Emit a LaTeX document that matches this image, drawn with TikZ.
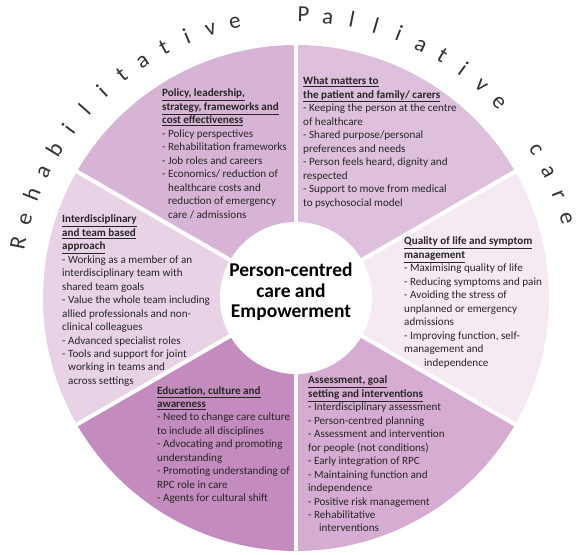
\documentclass[tikz,border=0pt]{standalone}
\usepackage{fontspec}
\setmainfont{Carlito}
\definecolor{cpol}{HTML}{D7B4D5}
\definecolor{cwhat}{HTML}{DEC0DC}
\definecolor{cqol}{HTML}{F5EAF3}
\definecolor{cass}{HTML}{D6ACD2}
\definecolor{cedu}{HTML}{C48BBE}
\definecolor{cint}{HTML}{E8D2E6}
\tikzset{
  blk/.style={anchor=north west, align=left, inner sep=0pt, font=\fontsize{11.1}{13.45}\selectfont, text=black!85},
  arcl/.style={font=\fontsize{23}{23}\selectfont, anchor=base, inner sep=0pt, text=black!80},
  sepline/.style={white, line width=4pt},
}
\newcommand{\hd}[1]{\textbf{\underline{#1}}}
\begin{document}
\begin{tikzpicture}[x=1pt,y=1pt]
\useasboundingbox (0,0) rectangle (583,554);
\coordinate (O) at (296,256);
\def\R{253}
\fill[cqol] (O) -- ++(-30:\R) arc[start angle=-30,end angle=30,radius=\R] -- cycle;
\fill[cwhat] (O) -- ++(30:\R) arc[start angle=30,end angle=90,radius=\R] -- cycle;
\fill[cpol] (O) -- ++(90:\R) arc[start angle=90,end angle=150,radius=\R] -- cycle;
\fill[cint] (O) -- ++(150:\R) arc[start angle=150,end angle=210,radius=\R] -- cycle;
\fill[cedu] (O) -- ++(210:\R) arc[start angle=210,end angle=270,radius=\R] -- cycle;
\fill[cass] (O) -- ++(270:\R) arc[start angle=270,end angle=330,radius=\R] -- cycle;
\foreach \a in {30,90,150,210,270,330} \draw[sepline] (O) -- ++(\a:\R+3);
\node[circle, fill=white, minimum size=152pt, inner sep=0pt] (hub) at (O) {};
\node[align=center, inner sep=0pt, font=\fontsize{19.5}{20.5}\selectfont\bfseries] (title) at (291,262) {Person-centred\\care and\\Empowerment};

\node[blk] (pol) at (162,465) {\hd{Policy, leadership,}\\
\hd{strategy, frameworks and}\\
\hd{cost effectiveness}\\
- Policy perspectives\\
- Rehabilitation frameworks\\
- Job roles and careers\\
- Economics/ reduction of\\
\hspace*{6pt}healthcare costs and\\
\hspace*{6pt}reduction of emergency\\
\hspace*{6pt}care / admissions};

\node[blk] (what) at (303,477) {\hd{What matters to}\\
\hd{the patient and family/ carers}\\
- Keeping the person at the centre\\
of healthcare\\
- Shared purpose/personal\\
preferences and needs\\
- Person feels heard, dignity and\\
respected\\
- Support to move from medical\\
to psychosocial model};

\node[blk] (int) at (62,339) {\hd{Interdisciplinary}\\
\hd{and team based}\\
\hd{approach}\\
- Working as a member of an\\
interdisciplinary team with\\
shared team goals\\
- Value the whole team including\\
allied professionals and non-\\
clinical colleagues\\
- Advanced specialist roles\\
- Tools and support for joint\\
\hspace*{6pt}working in teams and\\
\hspace*{6pt}across settings};

\node[blk] (qol) at (404,317) {\hd{Quality of life and symptom}\\
\hd{management}\\
- Maximising quality of life\\
- Reducing symptoms and pain\\
- Avoiding the stress of\\
unplanned or emergency\\
admissions\\
- Improving function, self-\\
management and\\
\hspace*{20pt}independence};

\node[blk] (edu) at (157,168) {\hd{Education, culture and}\\
\hd{awareness}\\
- Need to change care culture\\
to include all disciplines\\
- Advocating and promoting\\
understanding\\
- Promoting understanding of\\
RPC role in care\\
- Agents for cultural shift};

\node[blk] (ass) at (308,178) {\hd{Assessment, goal}\\
\hd{setting and interventions}\\
- Interdisciplinary assessment\\
- Person-centred planning\\
- Assessment and intervention\\
for people (not conditions)\\
- Early integration of RPC\\
- Maintaining function and\\
independence\\
- Positive risk management\\
- Rehabilitative\\
\hspace*{11pt}interventions};

\foreach \ch/\ang [count=\i] in {R/168.8,e/163.7,h/158.6,a/153.5,b/148.4,i/143.3,l/138.2,i/133.1,t/128.0,a/122.9,t/117.8,i/112.7,v/107.6,e/102.5,
  P/88.5,a/83.55,l/78.6,l/73.65,i/68.7,a/63.75,t/58.8,i/53.85,v/48.9,e/43.95,
  c/31.7,a/26.6,r/21.5,e/16.4}
  \node[arcl, rotate=\ang-90] (arc\i) at ([shift={(\ang:276)}]O) {\ch};
\end{tikzpicture}
\end{document}
